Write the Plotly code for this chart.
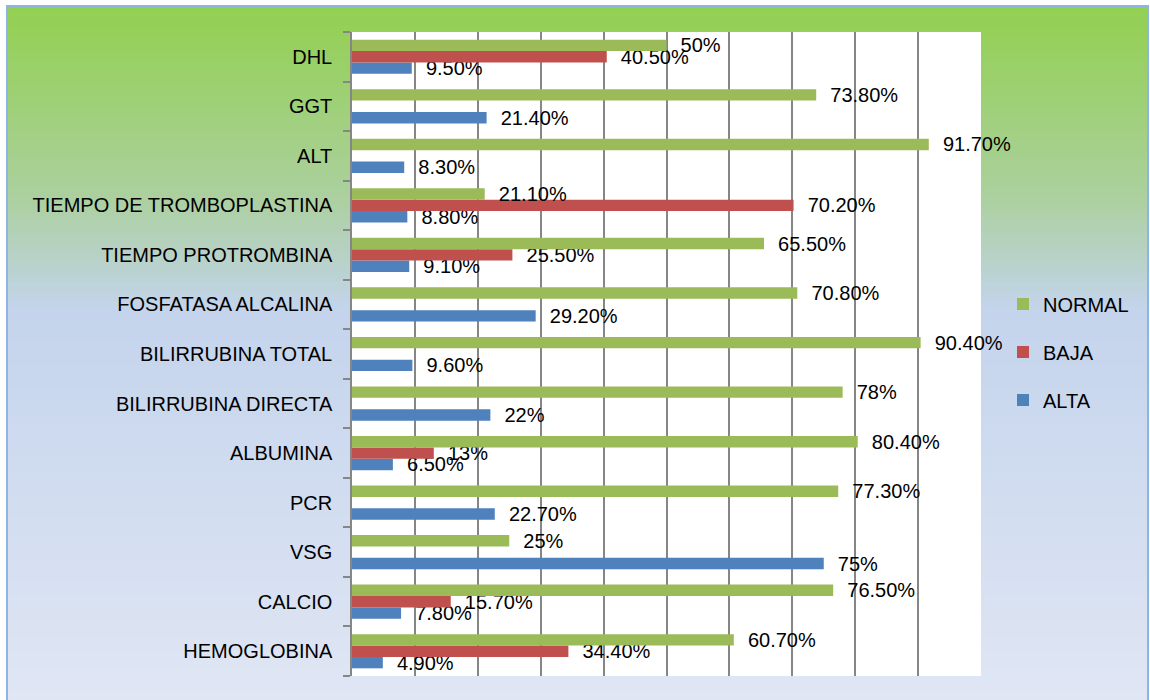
import plotly.graph_objects as go

# ---- data (bottom category first) ----
categories = ["HEMOGLOBINA", "CALCIO", "VSG", "PCR", "ALBUMINA", "BILIRRUBINA DIRECTA",
              "BILIRRUBINA TOTAL", "FOSFATASA ALCALINA", "TIEMPO PROTROMBINA",
              "TIEMPO DE TROMBOPLASTINA", "ALT", "GGT", "DHL"]
alta = [4.9, 7.8, 75, 22.7, 6.5, 22, 9.6, 29.2, 9.1, 8.8, 8.3, 21.4, 9.5]
baja = [34.4, 15.7, None, None, 13, None, None, None, 25.5, 70.2, None, None, 40.5]
normal = [60.7, 76.5, 25, 77.3, 80.4, 78, 90.4, 70.8, 65.5, 21.1, 91.7, 73.8, 50]
series_names = ["ALTA", "BAJA", "NORMAL"]
x_ticks = [0, 10, 20, 30, 40, 50, 60, 70, 80, 90, 100]

colors = {"ALTA": "#4F81BD", "BAJA": "#C0504D", "NORMAL": "#9BBB59"}
FONT = "Liberation Sans"

W, H = 1150, 700
L, R, T, B = 352, 981, 32, 676  # plot area in pixels


def px_x(p):
    return (p - L) / (R - L)


def px_y(p):
    return (B - p) / (B - T)


def fmt(v):
    if v is None:
        return ""
    if float(v).is_integer():
        return "  %d%%" % v
    return "  %.2f%%" % v


fig = go.Figure()
for name, vals, rank in [("ALTA", alta, 3), ("BAJA", baja, 2), ("NORMAL", normal, 1)]:
    fig.add_trace(go.Bar(
        y=categories, x=vals, name=name, orientation="h",
        marker=dict(color=colors[name], line=dict(width=0)),
        text=[fmt(v) for v in vals], textposition="outside",
        textfont=dict(family=FONT, size=20, color="black"),
        cliponaxis=False, constraintext="none",
        legendrank=rank, legendgroup=name,
    ))

# ---- background gradient ----
stops = [(6, (146, 208, 80)), (100, (158, 208, 118)), (200, (172, 208, 160)),
         (265, (185, 210, 205)), (310, (196, 212, 236)), (700, (224, 230, 244))]


def col_at(p):
    for (p0, c0), (p1, c1) in zip(stops[:-1], stops[1:]):
        if p0 <= p <= p1:
            t = (p - p0) / (p1 - p0)
            return "rgb(%d,%d,%d)" % tuple(round(a + (b - a) * t) for a, b in zip(c0, c1))
    return "rgb(%d,%d,%d)" % stops[-1][1]


shapes = []
step = 5
p = 6
while p < 702:
    shapes.append(dict(type="rect", xref="paper", yref="paper", layer="below",
                       x0=px_x(7), x1=px_x(1149), y0=px_y(p + step + 0.5), y1=px_y(p),
                       fillcolor=col_at(p + step / 2), line=dict(width=0)))
    p += step
shapes.append(dict(type="rect", xref="paper", yref="paper", layer="below",
                   x0=0, x1=1, y0=0, y1=1, fillcolor="white", line=dict(width=0)))
shapes.append(dict(type="rect", xref="paper", yref="paper", layer="above",
                   x0=px_x(7), x1=px_x(1148), y0=px_y(705), y1=px_y(6),
                   fillcolor="rgba(0,0,0,0)", line=dict(color="rgb(141,180,226)", width=2)))

fig.update_layout(
    width=W, height=H,
    margin=dict(l=L, r=W - R, t=T, b=H - B, pad=0),
    paper_bgcolor="white", plot_bgcolor="white",
    barmode="group", bargap=0.31, bargroupgap=0,
    font=dict(family=FONT, size=20, color="black"),
    shapes=shapes,
    showlegend=True,
    legend=dict(x=px_x(1003), y=px_y(352), xanchor="left", yanchor="middle",
                bgcolor="rgba(0,0,0,0)", tracegroupgap=19,
                font=dict(family=FONT, size=20, color="black")),
    xaxis=dict(range=[0, 100], tickvals=x_ticks, showticklabels=False,
               showgrid=True, gridcolor="rgb(134,134,134)", gridwidth=1.5,
               zeroline=False, showline=False, fixedrange=True),
    yaxis=dict(type="category", categoryorder="array", categoryarray=categories,
               showline=True, linecolor="rgb(134,134,134)", linewidth=1.5,
               ticks="outside", ticklen=7, tickcolor="rgb(134,134,134)", tickwidth=1.5,
               tickson="boundaries", showgrid=False, ticklabelstandoff=14,
               tickfont=dict(family=FONT, size=20, color="black")),
)

fig.write_html("out.html", config={"displayModeBar": False},
               post_script="document.body.style.margin='0';document.body.style.overflow='hidden';")
